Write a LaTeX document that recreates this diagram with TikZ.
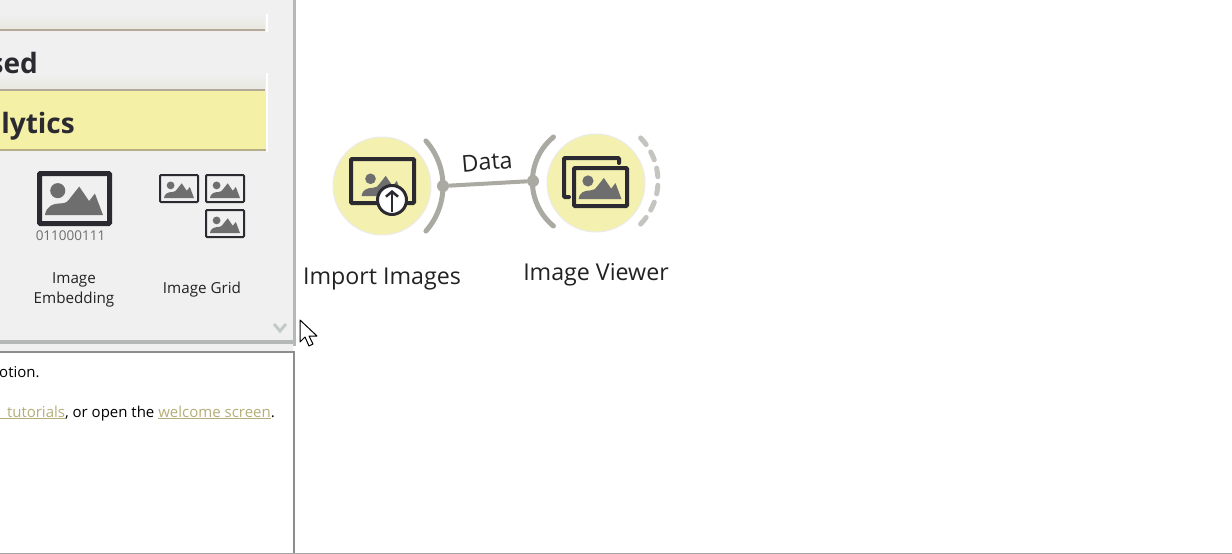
\documentclass[tikz,border=0pt]{standalone}
\usepackage{fontspec}
\usetikzlibrary{arrows.meta}
\setmainfont{Open Sans}
\definecolor{panelgray}{HTML}{F0F0F0}
\definecolor{bandshade}{HTML}{E8E8E0}
\definecolor{bandline}{HTML}{B3A998}
\definecolor{bandyellow}{HTML}{F4F1A6}
\definecolor{yellowline}{HTML}{B8AF88}
\definecolor{splitgray}{HTML}{B4B8B6}
\definecolor{chevrongray}{HTML}{C4CACA}
\definecolor{framegray}{HTML}{8C8E8E}
\definecolor{icondark}{HTML}{2B2A30}
\definecolor{icongray}{HTML}{6E6E6E}
\definecolor{widgetyellow}{HTML}{F4F1B0}
\definecolor{channelgray}{HTML}{AAA9A2}
\definecolor{dashgray}{HTML}{C4C5C0}
\definecolor{linkcolor}{HTML}{B5AE78}
\definecolor{textdark}{HTML}{222222}
\tikzset{
	bandtitle/.style={font=\fontsize{28}{30}\selectfont\bfseries,text=icondark,inner sep=0pt},
	toolbox/.style={font=\fontsize{15.2}{20}\selectfont,text=textdark,align=center,inner sep=0pt},
	infotext/.style={font=\fontsize{15}{18}\selectfont,text=black,inner sep=0pt},
	widgetname/.style={font=\fontsize{23.2}{27}\selectfont,text=textdark,inner sep=0pt},
	widget/.style={circle,fill=widgetyellow,draw=black!8,line width=1pt,minimum size=98pt,inner sep=0pt},
	channel/.style={channelgray,line width=5pt,line cap=round},
	anchordot/.style={circle,fill=channelgray,minimum size=12pt,inner sep=0pt},
	iconframe/.style={draw=icondark,line width=#1,rounded corners=1pt},
	landscape/.pic={
		\fill[icongray] (-.5,0) .. controls (-.48,-.14) and (-.38,-.2) .. (-.22,-.2)
			.. controls (-.14,-.2) and (-.1,-.24) .. (-.06,-.3) -- (.09,-.49) -- (.26,-.24) -- (.36,-.37) -- (.5,0) -- cycle;
		\fill[icongray] (-.28,-.42) circle (.13);
	}
}
\begin{document}
\begin{tikzpicture}[x=1pt,y=-1pt]
	\useasboundingbox (0,0) rectangle (1232,554);
	\fill[white] (0,0) rectangle (1232,554);
	\fill[panelgray] (0,0) rectangle (293,346);
	%
	\shade[top color=panelgray,bottom color=bandshade] (0,14) rectangle (265,29);
	\fill[bandline] (0,29) rectangle (265,31);
	\fill[white] (266,14) rectangle (268,32);
	\shade[top color=panelgray,bottom color=bandshade] (0,74) rectangle (265,89);
	\fill[bandline] (0,89) rectangle (265,91);
	\fill[bandyellow] (0,91) rectangle (266,149);
	\fill[yellowline] (0,149) rectangle (266,151);
	\fill[white] (266,73) rectangle (268,152);
	\node[bandtitle,anchor=base east] (usedtitle) at (38,73) {sed};
	\node[bandtitle,anchor=base east] (analyticstitle) at (75,133) {lytics};
	%
	\draw[iconframe=5pt] (39.5,173.5) rectangle (109.5,223.5);
	\pic[scale=58] at (74,215) {landscape};
	\node[font=\fontsize{13.5}{14}\selectfont,text=icongray,inner sep=0pt] (bits) at (70.5,236) {011000111};
	\draw[iconframe=2pt] (160,175) rectangle (198,202);
	\draw[iconframe=2pt] (206,175) rectangle (244,202);
	\draw[iconframe=2pt] (206,210) rectangle (244,237);
	\pic[scale=30] at (179,198) {landscape};
	\pic[scale=30] at (225,198) {landscape};
	\pic[scale=30] at (225,233) {landscape};
	\node[toolbox] (embedding) at (74,290) {Image\\Embedding};
	\node[toolbox] (grid) at (202,290) {Image Grid};
	\draw[chevrongray,line width=3pt] (274,324) -- (280,331) -- (286,324);
	%
	\fill[splitgray] (0,340) rectangle (293,343.5);
	\fill[splitgray] (293,0) rectangle (295.5,346);
	\fill[panelgray] (0,343.5) rectangle (293,352);
	\draw[framegray,line width=1.5pt] (0,352) -- (294,352) -- (294,554);
	\draw[black!35,line width=1pt] (0,553.5) -- (1232,553.5);
	\node[infotext,anchor=base west] (infoone) at (-1,377) {otion.};
	\node[infotext,anchor=base east] (infotwo) at (275,417) {\textcolor{linkcolor}{\underline{\hspace{8pt}tutorials}}, or open the \textcolor{linkcolor}{\underline{welcome screen}}.};
	%
	\node[widget] (import) at (382,186) {};
	\node[widget] (viewer) at (596,183) {};
	\coordinate (outcentre) at (375,186);
	\coordinate (incentre) at (590,181.5);
	\draw[channel] (outcentre) ++(-41.5:68) arc (-41.5:41.5:68);
	\draw[channel] (incentre) ++(129.4:57.6) arc (129.4:230.6:57.6);
	\foreach \a in {-40,-24,-8,8,24,40}
		\draw[dashgray,line width=5pt,line cap=round] (596,181) ++(\a-4:62) arc (\a-4:\a+4:62);
	\node[anchordot] (outdot) at (443,186) {};
	\node[anchordot] (indot) at (533,181) {};
	\draw[channelgray,line width=4pt] (outdot) -- (indot);
	\node[widgetname,rotate=5] (datalabel) at (487,162) {Data};
	%
	\draw[iconframe=4pt] (351,159) rectangle (414,203);
	\pic[scale=41] at (382,196) {landscape};
	\node[circle,fill=white,draw=icondark,line width=3pt,minimum size=29pt,inner sep=0pt] (uploadmark) at (392,200) {};
	\draw[icondark,line width=2.5pt,-{Straight Barb[length=5pt,width=12pt]}] (392,212) -- (392,190);
	%
	\draw[icondark,line width=4pt,rounded corners=1pt,line cap=round] (619,163) -- (619,158) -- (564,158) -- (564,197) -- (569,197);
	\draw[iconframe=4pt] (574,168) rectangle (627,206);
	\pic[scale=43] at (600,199) {landscape};
	%
	\node[widgetname] (importname) at (382,279) {Import Images};
	\node[widgetname] (viewername) at (596,275) {Image Viewer};
	%
	\draw[black,fill=white,line width=1pt,line join=round] (300,320) -- (300,342) -- (305,337) -- (309,346) -- (313,344) -- (309,336) -- (317,336) -- cycle;
\end{tikzpicture}
\end{document}
